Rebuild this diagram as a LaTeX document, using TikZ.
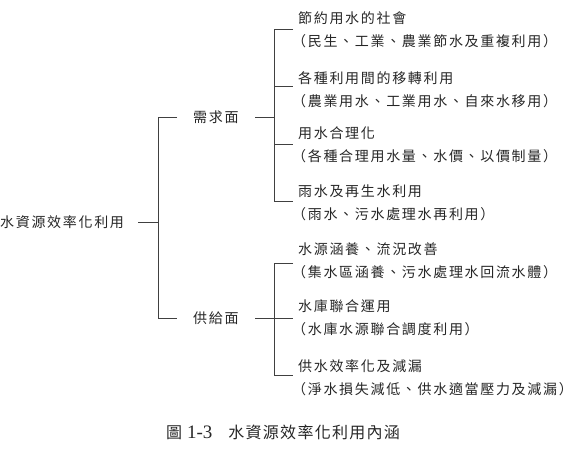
\documentclass[tikz,border=0pt]{standalone}
\usepackage{fontspec}
\newfontfamily\cjk[LetterSpace=12]{Noto Sans CJK TC}
\newfontfamily\cjkcap[LetterSpace=8]{Noto Sans CJK TC}
\newfontfamily\numfont{Liberation Serif}
\newcommand\pl{\kern-6pt（}
\begin{document}
\begin{tikzpicture}[x=1pt,y=-1pt,
  conn/.style={draw=black!75, line width=0.8pt},
  lbl/.style={font=\cjk\fontsize{14}{23}\selectfont, text=black!85, inner sep=0pt, align=left, anchor=west}]
\useasboundingbox (0,0) rectangle (577,456);
% nodes
\node[lbl] (root) at (0,222) {水資源效率化利用};
\node[lbl] (dem) at (193,117) {需求面};
\node[lbl] (sup) at (193,318) {供給面};
\node[lbl] (d1) at (298,29.5) {節約用水的社會\\\pl 民生、工業、農業節水及重複利用）};
\node[lbl] (d2) at (298,90) {各種利用間的移轉利用\\\pl 農業用水、工業用水、自來水移用）};
\node[lbl] (d3) at (298,145) {用水合理化\\\pl 各種合理用水量、水價、以價制量）};
\node[lbl] (d4) at (298,203) {雨水及再生水利用\\\pl 雨水、污水處理水再利用）};
\node[lbl] (s1) at (298,261) {水源涵養、流況改善\\\pl 集水區涵養、污水處理水回流水體）};
\node[lbl] (s2) at (298,318) {水庫聯合運用\\\pl 水庫水源聯合調度利用）};
\node[lbl] (s3) at (298,377.5) {供水效率化及減漏\\\pl 淨水損失減低、供水適當壓力及減漏）};
\node[font=\cjkcap\fontsize{16}{18}\selectfont, text=black!85, inner sep=0pt] (cap) at (283,432)
  {圖\hspace{5pt}{\numfont\fontsize{19}{20}\selectfont 1-3}\hspace{16pt}水資源效率化利用內涵};
% junction coordinates
\coordinate (r0) at (138,222);
\coordinate (r1) at (158,222);
\coordinate (bt) at (158,117);
\coordinate (bb) at (158,318);
\coordinate (dl) at (177,117);
\coordinate (sl) at (177,318);
\coordinate (dr) at (255,117);
\coordinate (sr) at (255,318);
\coordinate (dj) at (274,117);
\coordinate (sj) at (274,318);
\coordinate (t1) at (274,29);
\coordinate (t2) at (274,86);
\coordinate (t3) at (274,144);
\coordinate (t4) at (274,201);
\coordinate (u1) at (274,263);
\coordinate (u2) at (274,318);
\coordinate (u3) at (274,375);
% connectors
\draw[conn] (r0) -- (r1);
\draw[conn] (dl) -- (bt) -- (bb) -- (sl);
\draw[conn] (dr) -- (dj);
\draw[conn] (sr) -- (sj);
\draw[conn] ([xshift=19pt]t1) -- (t1) -- (t4) -- ([xshift=19pt]t4);
\draw[conn] (t2) -- ([xshift=19pt]t2);
\draw[conn] (t3) -- ([xshift=19pt]t3);
\draw[conn] ([xshift=19pt]u1) -- (u1) -- (u3) -- ([xshift=19pt]u3);
\draw[conn] (u2) -- ([xshift=19pt]u2);
\end{tikzpicture}
\end{document}
